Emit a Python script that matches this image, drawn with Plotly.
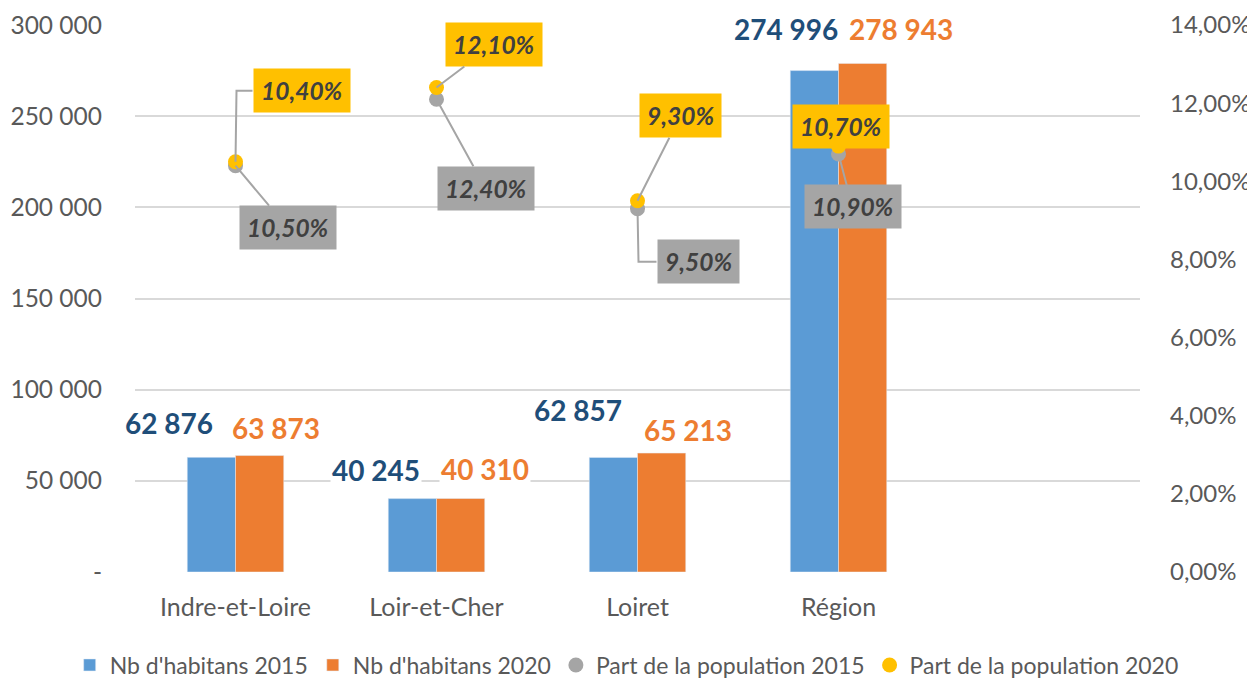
import plotly.graph_objects as go

categories = ["Indre-et-Loire", "Loir-et-Cher", "Loiret", "Région"]
habitants_2015 = [62876, 40245, 62857, 274996]
habitants_2020 = [63873, 40310, 65213, 278943]
# shares in %, as placed in the source chart (its box labels are swapped between the two series)
part_2015 = [10.4, 12.1, 9.3, 10.7]
part_2020 = [10.5, 12.4, 9.5, 10.9]
left_ticks = [0, 50000, 100000, 150000, 200000, 250000, 300000]

BLUE = "#5B9BD5"
ORANGE = "#ED7D31"
GREY = "#A5A5A5"
YELLOW = "#FFC000"
FONT = "Lato"


def fmt_int(v):
    return f"{v:,}".replace(",", " ")


def fmt_pct(v):
    return f"{v:.2f}".replace(".", ",") + "%"


fig = go.Figure()
fig.add_trace(go.Bar(x=categories, y=habitants_2015, name="Nb d'habitans 2015", marker_color=BLUE))
fig.add_trace(go.Bar(x=categories, y=habitants_2020, name="Nb d'habitans 2020", marker_color=ORANGE))
fig.add_trace(go.Scatter(x=categories, y=[p / 100 for p in part_2015], mode="markers", yaxis="y2",
                         name="Part de la population 2015", marker=dict(color=GREY, size=15)))
fig.add_trace(go.Scatter(x=categories, y=[p / 100 for p in part_2020], mode="markers", yaxis="y2",
                         name="Part de la population 2020", marker=dict(color=YELLOW, size=15)))

# bar value labels (hand-placed in the original)
shift_2015 = [(-67, 34), (-61, 29), (-60, 47), (-53, 42)]
shift_2020 = [(40, 28), (48, 30), (50, 23), (62, 34)]
for cat, v, (dx, dy) in zip(categories, habitants_2015, shift_2015):
    fig.add_annotation(x=cat, y=v, text=fmt_int(v), showarrow=False, xshift=dx, yshift=dy,
                       bgcolor="white", font=dict(family=FONT, size=28, color="#1F4E79", weight="bold"))
for cat, v, (dx, dy) in zip(categories, habitants_2020, shift_2020):
    fig.add_annotation(x=cat, y=v, text=fmt_int(v), showarrow=False, xshift=dx, yshift=dy,
                       bgcolor="white", font=dict(family=FONT, size=28, color=ORANGE, weight="bold"))

# percentage call-outs with leader lines; some leaders are elbows (x = where the elbow meets the box)
offs_yellow = [(66, -71), (57, -43), (43, -85), (2, -20)]
offs_grey = [(52, 62), (49, 89), (61, 53), (14, 53)]
elbow_yellow = [17, None, None, None]
elbow_grey = [None, None, 19, None]
lbl_font = dict(family=FONT, size=24.5, color="#404040", weight="bold", style="italic")


def callout(cat, p, txt, off, elbow, bg):
    ax, ay = off
    fig.add_annotation(x=cat, y=p / 100, yref="y2", text=fmt_pct(txt), ax=ax, ay=ay,
                       showarrow=True, arrowhead=0, arrowwidth=2, standoff=0,
                       arrowcolor=GREY if elbow is None else "rgba(0,0,0,0)",
                       bgcolor=bg, borderpad=7, font=lbl_font)
    if elbow is not None:
        fig.add_shape(type="path", xref="x", yref="y2", xsizemode="pixel", ysizemode="pixel",
                      xanchor=cat, yanchor=p / 100, layer="above",
                      path=f"M 0,0 L 1,{-ay} L {elbow},{-ay}", line=dict(color=GREY, width=2))


for cat, p, txt, off, el in zip(categories, part_2020, part_2015, offs_yellow, elbow_yellow):
    callout(cat, p, txt, off, el, YELLOW)
for cat, p, txt, off, el in zip(categories, part_2015, part_2020, offs_grey, elbow_grey):
    callout(cat, p, txt, off, el, GREY)

# the page body adds an 8px margin, so the figure is sized to the visible area
fig.update_layout(
    width=1247, height=672,
    margin=dict(l=127, r=115, t=17, b=108, autoexpand=False),
    plot_bgcolor="white", paper_bgcolor="white",
    separators=", ",
    barmode="group", bargap=0.52, bargroupgap=0,
    font=dict(family=FONT, color="#595959", size=24),
    xaxis=dict(range=[-0.5, 4.5], showgrid=False, showline=False, ticks="", automargin=False,
               ticklabelstandoff=18, tickfont=dict(size=25)),
    yaxis=dict(range=[0, 300000], tickvals=left_ticks,
               ticktext=[fmt_int(t) if t else "-" for t in left_ticks],
               showgrid=True, gridcolor="#D9D9D9", gridwidth=2, zeroline=False, automargin=False,
               ticklabelstandoff=32, tickfont=dict(size=24.5)),
    yaxis2=dict(range=[0, 0.14], dtick=0.02, tickformat=".2%", overlaying="y", side="right",
                showgrid=False, zeroline=False, automargin=False,
                ticklabelstandoff=29, tickfont=dict(size=24)),
    legend=dict(orientation="h", x=-0.065, xanchor="left", y=-0.17, yanchor="middle",
                font=dict(size=23), itemwidth=30, traceorder="normal"),
    showlegend=True,
)

fig.write_html("out.html")
